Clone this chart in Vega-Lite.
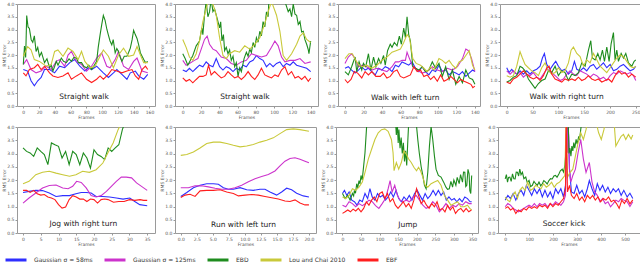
{
"$schema": "https://vega.github.io/schema/vega-lite/v6.json",
"padding": {"left": 0, "top": 0, "right": 0, "bottom": 0},
"background": "white",
"datasets": {
"p1": [
{"s":"b","x":0,"y":1.43},{"s":"b","x":5.5,"y":1.37},{"s":"b","x":9.8,"y":0.99},{"s":"b","x":14,"y":0.79},{"s":"b","x":18.3,"y":0.99},{"s":"b","x":22.6,"y":1.12},{"s":"b","x":26.9,"y":1.43},{"s":"b","x":33.3,"y":1.43},{"s":"b","x":39.7,"y":1.3},{"s":"b","x":46,"y":1.56},{"s":"b","x":52.5,"y":1.5},{"s":"b","x":58.9,"y":1.7},{"s":"b","x":65.3,"y":1.82},{"s":"b","x":71.7,"y":1.56},{"s":"b","x":78.1,"y":1.37},{"s":"b","x":82.3,"y":1.5},{"s":"b","x":86.6,"y":1.43},{"s":"b","x":93,"y":1.56},{"s":"b","x":97.3,"y":1.43},{"s":"b","x":101.5,"y":1.3},{"s":"b","x":107.9,"y":1.12},{"s":"b","x":114.3,"y":1.3},{"s":"b","x":118.6,"y":1.43},{"s":"b","x":125,"y":1.24},{"s":"b","x":131.4,"y":1.05},{"s":"b","x":135.7,"y":1.3},{"s":"b","x":142.1,"y":1.37},{"s":"b","x":146.3,"y":1.18},{"s":"b","x":152.7,"y":1.05},{"s":"b","x":157.8,"y":1.24},
{"s":"m","x":0,"y":1.63},{"s":"m","x":4.3,"y":1.82},{"s":"m","x":9.8,"y":1.43},{"s":"m","x":16.2,"y":1.3},{"s":"m","x":22.6,"y":1.37},{"s":"m","x":29,"y":1.56},{"s":"m","x":35.4,"y":1.43},{"s":"m","x":41.8,"y":1.75},{"s":"m","x":46,"y":1.82},{"s":"m","x":52.5,"y":1.56},{"s":"m","x":56.7,"y":2.0},{"s":"m","x":61,"y":2.14},{"s":"m","x":67.4,"y":1.75},{"s":"m","x":73.8,"y":1.63},{"s":"m","x":80.2,"y":1.37},{"s":"m","x":86.6,"y":1.56},{"s":"m","x":93,"y":1.88},{"s":"m","x":99.4,"y":2.08},{"s":"m","x":105.8,"y":1.56},{"s":"m","x":110,"y":1.5},{"s":"m","x":116.5,"y":1.82},{"s":"m","x":120.7,"y":2.14},{"s":"m","x":127.1,"y":1.56},{"s":"m","x":133.5,"y":1.43},{"s":"m","x":139.9,"y":1.75},{"s":"m","x":144.2,"y":1.88},{"s":"m","x":150.6,"y":1.37},{"s":"m","x":157.8,"y":1.3},
{"s":"g","x":0,"y":1.63},{"s":"g","x":1.5,"y":2.35},{"s":"g","x":3,"y":1.9},{"s":"g","x":4.3,"y":3.55},{"s":"g","x":6,"y":3.1},{"s":"g","x":7.7,"y":3.04},{"s":"g","x":10,"y":2.6},{"s":"g","x":12,"y":2.5},{"s":"g","x":14,"y":2.75},{"s":"g","x":16.2,"y":2.14},{"s":"g","x":18.3,"y":2.3},{"s":"g","x":20.5,"y":1.95},{"s":"g","x":23,"y":2.1},{"s":"g","x":26.9,"y":1.7},{"s":"g","x":30,"y":1.85},{"s":"g","x":33.3,"y":1.5},{"s":"g","x":35.4,"y":1.6},{"s":"g","x":37.5,"y":1.37},{"s":"g","x":39.7,"y":1.55},{"s":"g","x":41.8,"y":1.75},{"s":"g","x":44,"y":1.6},{"s":"g","x":48.2,"y":1.88},{"s":"g","x":51,"y":1.75},{"s":"g","x":54.6,"y":1.7},{"s":"g","x":58,"y":1.85},{"s":"g","x":61,"y":1.75},{"s":"g","x":64,"y":1.9},{"s":"g","x":67.4,"y":1.88},{"s":"g","x":70,"y":1.7},{"s":"g","x":73.8,"y":1.7},{"s":"g","x":77,"y":1.55},{"s":"g","x":80.2,"y":1.5},{"s":"g","x":83,"y":1.6},{"s":"g","x":86.6,"y":1.43},{"s":"g","x":90,"y":1.6},{"s":"g","x":93,"y":1.75},{"s":"g","x":95,"y":2.3},{"s":"g","x":97.3,"y":2.78},{"s":"g","x":99.5,"y":3.2},{"s":"g","x":101.5,"y":3.55},{"s":"g","x":103.7,"y":3.36},{"s":"g","x":106,"y":3.0},{"s":"g","x":107.9,"y":2.78},{"s":"g","x":110,"y":2.55},{"s":"g","x":112.2,"y":2.4},{"s":"g","x":114,"y":2.6},{"s":"g","x":116.5,"y":2.08},{"s":"g","x":118.6,"y":2.25},{"s":"g","x":120.7,"y":2.14},{"s":"g","x":123,"y":1.9},{"s":"g","x":125,"y":1.75},{"s":"g","x":128,"y":1.95},{"s":"g","x":131.4,"y":1.95},{"s":"g","x":133.5,"y":2.1},{"s":"g","x":135.7,"y":2.27},{"s":"g","x":138,"y":2.6},{"s":"g","x":139.9,"y":2.97},{"s":"g","x":142,"y":2.8},{"s":"g","x":144.2,"y":2.65},{"s":"g","x":146.3,"y":2.4},{"s":"g","x":148.5,"y":2.08},{"s":"g","x":150.6,"y":1.95},{"s":"g","x":152.7,"y":1.82},{"s":"g","x":155,"y":1.7},{"s":"g","x":157.8,"y":1.75},
{"s":"y","x":0,"y":1.95},{"s":"y","x":5.5,"y":2.33},{"s":"y","x":9.8,"y":2.2},{"s":"y","x":14,"y":1.82},{"s":"y","x":20.5,"y":1.75},{"s":"y","x":29,"y":1.56},{"s":"y","x":35.4,"y":1.63},{"s":"y","x":39.7,"y":2.14},{"s":"y","x":43.9,"y":2.2},{"s":"y","x":50.3,"y":1.95},{"s":"y","x":56.7,"y":2.27},{"s":"y","x":63.1,"y":2.14},{"s":"y","x":69.5,"y":1.82},{"s":"y","x":73.8,"y":2.14},{"s":"y","x":78.1,"y":1.75},{"s":"y","x":84.5,"y":1.5},{"s":"y","x":90.9,"y":1.56},{"s":"y","x":97.3,"y":1.95},{"s":"y","x":101.5,"y":2.2},{"s":"y","x":107.9,"y":1.95},{"s":"y","x":114.3,"y":1.5},{"s":"y","x":120.7,"y":2.0},{"s":"y","x":127.1,"y":2.27},{"s":"y","x":133.5,"y":1.95},{"s":"y","x":139.9,"y":2.0},{"s":"y","x":144.2,"y":2.33},{"s":"y","x":148.5,"y":2.0},{"s":"y","x":152.7,"y":1.7},{"s":"y","x":157.8,"y":1.7},
{"s":"r","x":0,"y":1.3},{"s":"r","x":3.4,"y":1.18},{"s":"r","x":7.7,"y":1.43},{"s":"r","x":14,"y":1.5},{"s":"r","x":18.3,"y":1.63},{"s":"r","x":22.6,"y":1.43},{"s":"r","x":26.9,"y":1.56},{"s":"r","x":33.3,"y":1.3},{"s":"r","x":37.5,"y":1.18},{"s":"r","x":43.9,"y":1.12},{"s":"r","x":50.3,"y":1.18},{"s":"r","x":56.7,"y":1.3},{"s":"r","x":61,"y":1.05},{"s":"r","x":67.4,"y":1.18},{"s":"r","x":73.8,"y":1.3},{"s":"r","x":80.2,"y":1.05},{"s":"r","x":86.6,"y":0.92},{"s":"r","x":93,"y":1.05},{"s":"r","x":97.3,"y":1.18},{"s":"r","x":101.5,"y":1.05},{"s":"r","x":107.9,"y":1.24},{"s":"r","x":112.2,"y":1.43},{"s":"r","x":118.6,"y":1.37},{"s":"r","x":125,"y":1.3},{"s":"r","x":131.4,"y":1.37},{"s":"r","x":137.8,"y":1.43},{"s":"r","x":142.1,"y":1.18},{"s":"r","x":146.3,"y":1.05},{"s":"r","x":150.6,"y":1.43},{"s":"r","x":154.9,"y":1.56},{"s":"r","x":157.8,"y":1.43}
],
"p2": [
{"s":"b","x":0,"y":1.41},{"s":"b","x":3.7,"y":1.35},{"s":"b","x":7.3,"y":1.48},{"s":"b","x":11,"y":1.35},{"s":"b","x":14.7,"y":1.48},{"s":"b","x":18.3,"y":1.6},{"s":"b","x":22,"y":1.54},{"s":"b","x":25.6,"y":1.73},{"s":"b","x":29.3,"y":1.6},{"s":"b","x":33,"y":1.54},{"s":"b","x":36.6,"y":1.86},{"s":"b","x":40.3,"y":1.54},{"s":"b","x":44,"y":1.41},{"s":"b","x":47.6,"y":1.54},{"s":"b","x":51.3,"y":1.48},{"s":"b","x":55,"y":1.35},{"s":"b","x":58.6,"y":1.48},{"s":"b","x":62.3,"y":1.41},{"s":"b","x":66,"y":1.6},{"s":"b","x":69.6,"y":1.54},{"s":"b","x":73.3,"y":1.73},{"s":"b","x":77,"y":1.79},{"s":"b","x":80.6,"y":1.98},{"s":"b","x":84.3,"y":1.86},{"s":"b","x":87.9,"y":1.79},{"s":"b","x":91.6,"y":1.54},{"s":"b","x":95.3,"y":1.67},{"s":"b","x":98.9,"y":1.54},{"s":"b","x":102.6,"y":1.67},{"s":"b","x":106.3,"y":1.73},{"s":"b","x":109.9,"y":1.54},{"s":"b","x":113.6,"y":1.67},{"s":"b","x":117.3,"y":1.6},{"s":"b","x":120.9,"y":1.73},{"s":"b","x":124.6,"y":1.6},{"s":"b","x":130.1,"y":1.54},{"s":"b","x":135.6,"y":1.48},{"s":"b","x":140,"y":1.35},
{"s":"m","x":0,"y":1.79},{"s":"m","x":3.7,"y":1.6},{"s":"m","x":7.3,"y":1.67},{"s":"m","x":12.8,"y":1.79},{"s":"m","x":16.5,"y":1.86},{"s":"m","x":20.2,"y":2.23},{"s":"m","x":23.8,"y":2.61},{"s":"m","x":26.7,"y":2.74},{"s":"m","x":29.3,"y":2.42},{"s":"m","x":33,"y":2.23},{"s":"m","x":36.6,"y":2.17},{"s":"m","x":42.1,"y":1.92},{"s":"m","x":47.6,"y":1.86},{"s":"m","x":53.1,"y":1.67},{"s":"m","x":58.6,"y":1.6},{"s":"m","x":64.1,"y":1.73},{"s":"m","x":69.6,"y":1.79},{"s":"m","x":75.1,"y":2.05},{"s":"m","x":80.6,"y":1.98},{"s":"m","x":86.1,"y":1.92},{"s":"m","x":91.6,"y":1.98},{"s":"m","x":97.1,"y":2.3},{"s":"m","x":100.8,"y":2.55},{"s":"m","x":104.4,"y":2.36},{"s":"m","x":108.1,"y":1.92},{"s":"m","x":111.8,"y":1.73},{"s":"m","x":117.3,"y":1.79},{"s":"m","x":122.8,"y":1.79},{"s":"m","x":128.3,"y":1.86},{"s":"m","x":133.7,"y":1.67},{"s":"m","x":140,"y":1.73},
{"s":"g","x":0,"y":2.05},{"s":"g","x":2.6,"y":1.86},{"s":"g","x":5.5,"y":1.6},{"s":"g","x":8.4,"y":1.79},{"s":"g","x":11,"y":1.98},{"s":"g","x":14.7,"y":2.36},{"s":"g","x":18.3,"y":2.55},{"s":"g","x":20.9,"y":3.06},{"s":"g","x":22,"y":2.8},{"s":"g","x":23.8,"y":3.56},{"s":"g","x":25.6,"y":4.1},{"s":"g","x":27.5,"y":3.5},{"s":"g","x":29.3,"y":3.69},{"s":"g","x":31.1,"y":4.2},{"s":"g","x":33,"y":3.7},{"s":"g","x":34.8,"y":3.81},{"s":"g","x":37.7,"y":3.43},{"s":"g","x":40.3,"y":3.06},{"s":"g","x":41.5,"y":3.3},{"s":"g","x":42.9,"y":2.55},{"s":"g","x":44.5,"y":2.8},{"s":"g","x":45.8,"y":2.17},{"s":"g","x":47.6,"y":2.3},{"s":"g","x":49.5,"y":2.05},{"s":"g","x":51.3,"y":2.2},{"s":"g","x":53.1,"y":1.79},{"s":"g","x":55,"y":1.95},{"s":"g","x":56.8,"y":1.54},{"s":"g","x":58.6,"y":1.7},{"s":"g","x":60.5,"y":1.16},{"s":"g","x":62.3,"y":1.5},{"s":"g","x":64.1,"y":1.35},{"s":"g","x":67.1,"y":1.86},{"s":"g","x":69.6,"y":2.11},{"s":"g","x":71.5,"y":1.95},{"s":"g","x":73.3,"y":2.23},{"s":"g","x":75.1,"y":2.1},{"s":"g","x":77,"y":2.49},{"s":"g","x":78.8,"y":2.3},{"s":"g","x":80.6,"y":2.68},{"s":"g","x":82.4,"y":2.5},{"s":"g","x":84.3,"y":2.93},{"s":"g","x":86.1,"y":2.75},{"s":"g","x":87.9,"y":3.31},{"s":"g","x":89.8,"y":3.1},{"s":"g","x":91.6,"y":3.69},{"s":"g","x":93.4,"y":3.5},{"s":"g","x":94.2,"y":4.1},{"s":"g","x":100.8,"y":4.3},{"s":"g","x":106.3,"y":4.2},{"s":"g","x":111.8,"y":4.1},{"s":"g","x":115.4,"y":3.7},{"s":"g","x":117.3,"y":3.81},{"s":"g","x":119.1,"y":3.5},{"s":"g","x":120.9,"y":4.0},{"s":"g","x":122.8,"y":3.6},{"s":"g","x":124.6,"y":3.56},{"s":"g","x":126.4,"y":3.2},{"s":"g","x":128.3,"y":3.31},{"s":"g","x":130.1,"y":2.9},{"s":"g","x":131.9,"y":2.93},{"s":"g","x":133.7,"y":2.6},{"s":"g","x":135.6,"y":2.42},{"s":"g","x":137.4,"y":2.2},{"s":"g","x":138.1,"y":2.05},{"s":"g","x":140,"y":2.55},
{"s":"y","x":0,"y":2.61},{"s":"y","x":3.7,"y":2.3},{"s":"y","x":7.3,"y":1.92},{"s":"y","x":11,"y":1.79},{"s":"y","x":14.7,"y":2.05},{"s":"y","x":18.3,"y":2.55},{"s":"y","x":22,"y":3.31},{"s":"y","x":25.6,"y":3.81},{"s":"y","x":27.5,"y":4.1},{"s":"y","x":33,"y":4.0},{"s":"y","x":36.6,"y":3.56},{"s":"y","x":40.3,"y":2.68},{"s":"y","x":44,"y":1.98},{"s":"y","x":47.6,"y":1.86},{"s":"y","x":51.3,"y":2.05},{"s":"y","x":56.8,"y":2.17},{"s":"y","x":62.3,"y":2.11},{"s":"y","x":67.8,"y":2.36},{"s":"y","x":73.3,"y":2.23},{"s":"y","x":78.8,"y":2.42},{"s":"y","x":84.3,"y":2.68},{"s":"y","x":89.8,"y":3.24},{"s":"y","x":93.4,"y":3.69},{"s":"y","x":97.1,"y":4.1},{"s":"y","x":102.6,"y":3.56},{"s":"y","x":106.3,"y":2.93},{"s":"y","x":109.9,"y":1.98},{"s":"y","x":113.6,"y":1.79},{"s":"y","x":119.1,"y":2.05},{"s":"y","x":124.6,"y":2.42},{"s":"y","x":128.3,"y":2.74},{"s":"y","x":131.9,"y":2.87},{"s":"y","x":135.6,"y":2.61},{"s":"y","x":140,"y":2.49},
{"s":"r","x":0,"y":1.1},{"s":"r","x":3.7,"y":0.97},{"s":"r","x":7.3,"y":1.04},{"s":"r","x":11,"y":0.91},{"s":"r","x":14.7,"y":1.04},{"s":"r","x":18.3,"y":1.16},{"s":"r","x":22,"y":1.16},{"s":"r","x":25.6,"y":1.22},{"s":"r","x":28.2,"y":1.6},{"s":"r","x":31.1,"y":1.22},{"s":"r","x":34.8,"y":1.35},{"s":"r","x":38.5,"y":1.22},{"s":"r","x":42.1,"y":1.1},{"s":"r","x":45.8,"y":1.16},{"s":"r","x":49.5,"y":1.35},{"s":"r","x":53.1,"y":1.22},{"s":"r","x":56.8,"y":1.1},{"s":"r","x":60.5,"y":1.16},{"s":"r","x":64.1,"y":1.04},{"s":"r","x":67.8,"y":1.16},{"s":"r","x":71.5,"y":1.35},{"s":"r","x":75.1,"y":1.16},{"s":"r","x":78.8,"y":1.04},{"s":"r","x":82.4,"y":1.22},{"s":"r","x":86.1,"y":1.48},{"s":"r","x":89.8,"y":1.22},{"s":"r","x":93.4,"y":1.16},{"s":"r","x":97.1,"y":1.1},{"s":"r","x":100.8,"y":1.22},{"s":"r","x":104.4,"y":1.16},{"s":"r","x":108.1,"y":1.41},{"s":"r","x":111.8,"y":1.54},{"s":"r","x":115.4,"y":1.22},{"s":"r","x":119.1,"y":1.35},{"s":"r","x":122.8,"y":1.1},{"s":"r","x":126.4,"y":1.16},{"s":"r","x":130.1,"y":1.04},{"s":"r","x":133.7,"y":1.16},{"s":"r","x":137.4,"y":0.97},{"s":"r","x":140,"y":1.1}
],
"p3": [
{"s":"b","x":0,"y":1.48},{"s":"b","x":3.6,"y":1.54},{"s":"b","x":7.2,"y":1.41},{"s":"b","x":10.9,"y":1.29},{"s":"b","x":14.5,"y":1.41},{"s":"b","x":18.1,"y":1.54},{"s":"b","x":21.7,"y":1.41},{"s":"b","x":25.3,"y":1.48},{"s":"b","x":28.9,"y":1.35},{"s":"b","x":32.6,"y":1.22},{"s":"b","x":36.2,"y":1.48},{"s":"b","x":39.8,"y":1.41},{"s":"b","x":43.4,"y":1.54},{"s":"b","x":47,"y":1.48},{"s":"b","x":50.7,"y":1.35},{"s":"b","x":54.3,"y":1.6},{"s":"b","x":57.9,"y":1.54},{"s":"b","x":61.5,"y":1.73},{"s":"b","x":65.1,"y":1.67},{"s":"b","x":68.7,"y":1.6},{"s":"b","x":72.4,"y":1.73},{"s":"b","x":76,"y":1.48},{"s":"b","x":79.6,"y":1.35},{"s":"b","x":83.2,"y":1.54},{"s":"b","x":86.8,"y":1.35},{"s":"b","x":90.4,"y":1.22},{"s":"b","x":94.1,"y":1.41},{"s":"b","x":97.7,"y":1.35},{"s":"b","x":101.3,"y":1.6},{"s":"b","x":104.9,"y":1.35},{"s":"b","x":108.5,"y":1.41},{"s":"b","x":112.2,"y":1.22},{"s":"b","x":115.8,"y":1.35},{"s":"b","x":119.4,"y":1.29},{"s":"b","x":123,"y":1.22},{"s":"b","x":126.6,"y":1.35},{"s":"b","x":130.2,"y":1.16},{"s":"b","x":133.9,"y":1.29},{"s":"b","x":137.5,"y":1.41},{"s":"b","x":140,"y":1.35},
{"s":"m","x":0,"y":1.67},{"s":"m","x":3.6,"y":1.92},{"s":"m","x":7.2,"y":2.05},{"s":"m","x":10.9,"y":1.86},{"s":"m","x":14.5,"y":1.54},{"s":"m","x":18.8,"y":1.6},{"s":"m","x":23.5,"y":1.54},{"s":"m","x":28.9,"y":1.41},{"s":"m","x":34.4,"y":1.48},{"s":"m","x":39.8,"y":1.41},{"s":"m","x":45.2,"y":1.35},{"s":"m","x":50.7,"y":1.54},{"s":"m","x":54.3,"y":1.73},{"s":"m","x":57.9,"y":1.73},{"s":"m","x":61.5,"y":1.79},{"s":"m","x":65.1,"y":1.79},{"s":"m","x":66.9,"y":2.11},{"s":"m","x":69.5,"y":1.86},{"s":"m","x":73.1,"y":1.54},{"s":"m","x":77.8,"y":1.41},{"s":"m","x":83.2,"y":1.29},{"s":"m","x":88.6,"y":1.35},{"s":"m","x":94.1,"y":1.54},{"s":"m","x":99.5,"y":1.41},{"s":"m","x":104.9,"y":1.35},{"s":"m","x":110.3,"y":1.48},{"s":"m","x":115.8,"y":1.41},{"s":"m","x":121.2,"y":1.54},{"s":"m","x":126.6,"y":1.86},{"s":"m","x":130.2,"y":2.23},{"s":"m","x":133.1,"y":2.17},{"s":"m","x":136.4,"y":1.86},{"s":"m","x":140,"y":1.35},
{"s":"g","x":0,"y":1.35},{"s":"g","x":3.6,"y":1.22},{"s":"g","x":7.2,"y":1.54},{"s":"g","x":10.9,"y":1.92},{"s":"g","x":12.7,"y":1.35},{"s":"g","x":15.2,"y":1.73},{"s":"g","x":18.1,"y":1.41},{"s":"g","x":19.9,"y":1.67},{"s":"g","x":22.4,"y":1.54},{"s":"g","x":25.3,"y":2.05},{"s":"g","x":27.9,"y":1.41},{"s":"g","x":30.8,"y":1.92},{"s":"g","x":33.3,"y":1.54},{"s":"g","x":36.2,"y":1.86},{"s":"g","x":38.7,"y":1.67},{"s":"g","x":41.6,"y":1.98},{"s":"g","x":43.4,"y":1.6},{"s":"g","x":45.9,"y":2.17},{"s":"g","x":48.8,"y":2.42},{"s":"g","x":50.7,"y":2.3},{"s":"g","x":53.2,"y":2.49},{"s":"g","x":56.1,"y":2.36},{"s":"g","x":58.6,"y":2.74},{"s":"g","x":60.8,"y":2.42},{"s":"g","x":63.3,"y":3.06},{"s":"g","x":65.1,"y":2.68},{"s":"g","x":66.9,"y":3.5},{"s":"g","x":68.7,"y":2.8},{"s":"g","x":70.5,"y":2.55},{"s":"g","x":73.1,"y":1.54},{"s":"g","x":76,"y":1.48},{"s":"g","x":79.6,"y":1.41},{"s":"g","x":83.2,"y":1.54},{"s":"g","x":86.8,"y":1.35},{"s":"g","x":90.4,"y":1.41},{"s":"g","x":94.1,"y":1.73},{"s":"g","x":97.7,"y":1.48},{"s":"g","x":101.3,"y":1.67},{"s":"g","x":104.9,"y":1.16},{"s":"g","x":108.5,"y":1.54},{"s":"g","x":112.2,"y":1.04},{"s":"g","x":115.8,"y":1.41},{"s":"g","x":119.4,"y":0.85},{"s":"g","x":123,"y":1.16},{"s":"g","x":126.6,"y":0.91},{"s":"g","x":130.2,"y":1.41},{"s":"g","x":133.9,"y":1.1},{"s":"g","x":137.5,"y":1.04},{"s":"g","x":140,"y":0.85},
{"s":"y","x":0,"y":1.86},{"s":"y","x":4.3,"y":2.05},{"s":"y","x":8,"y":2.05},{"s":"y","x":11.6,"y":1.79},{"s":"y","x":15.2,"y":1.6},{"s":"y","x":18.8,"y":1.54},{"s":"y","x":23.5,"y":1.6},{"s":"y","x":28.9,"y":1.48},{"s":"y","x":34.4,"y":1.6},{"s":"y","x":39.8,"y":1.79},{"s":"y","x":45.2,"y":1.92},{"s":"y","x":50.7,"y":2.11},{"s":"y","x":55,"y":2.17},{"s":"y","x":59.7,"y":2.23},{"s":"y","x":63.3,"y":2.49},{"s":"y","x":66.9,"y":2.8},{"s":"y","x":69.5,"y":2.68},{"s":"y","x":73.1,"y":1.86},{"s":"y","x":76.7,"y":1.67},{"s":"y","x":81.4,"y":1.6},{"s":"y","x":85,"y":1.48},{"s":"y","x":88.6,"y":1.35},{"s":"y","x":92.3,"y":1.54},{"s":"y","x":95.9,"y":1.41},{"s":"y","x":101.3,"y":1.86},{"s":"y","x":104.9,"y":1.79},{"s":"y","x":108.5,"y":1.67},{"s":"y","x":112.2,"y":1.79},{"s":"y","x":115.8,"y":1.6},{"s":"y","x":119.4,"y":1.48},{"s":"y","x":123,"y":1.73},{"s":"y","x":126.6,"y":1.79},{"s":"y","x":130.2,"y":1.98},{"s":"y","x":133.9,"y":2.17},{"s":"y","x":137.5,"y":1.6},{"s":"y","x":140,"y":1.41},
{"s":"r","x":0,"y":1.04},{"s":"r","x":2.9,"y":0.91},{"s":"r","x":6.5,"y":1.04},{"s":"r","x":10.1,"y":1.35},{"s":"r","x":13.7,"y":1.29},{"s":"r","x":18.1,"y":1.1},{"s":"r","x":21.7,"y":1.35},{"s":"r","x":25.3,"y":1.22},{"s":"r","x":28.9,"y":1.35},{"s":"r","x":33.3,"y":1.16},{"s":"r","x":38,"y":1.16},{"s":"r","x":41.6,"y":1.29},{"s":"r","x":45.2,"y":1.1},{"s":"r","x":48.8,"y":1.16},{"s":"r","x":52.5,"y":1.35},{"s":"r","x":56.1,"y":1.41},{"s":"r","x":59.7,"y":1.16},{"s":"r","x":63.3,"y":1.1},{"s":"r","x":66.9,"y":1.16},{"s":"r","x":70.5,"y":1.22},{"s":"r","x":74.2,"y":1.54},{"s":"r","x":77.8,"y":1.35},{"s":"r","x":81.4,"y":1.41},{"s":"r","x":85,"y":1.16},{"s":"r","x":88.6,"y":1.22},{"s":"r","x":92.3,"y":1.04},{"s":"r","x":95.9,"y":1.16},{"s":"r","x":99.5,"y":0.97},{"s":"r","x":103.1,"y":1.22},{"s":"r","x":106.7,"y":0.97},{"s":"r","x":110.3,"y":1.04},{"s":"r","x":114,"y":1.16},{"s":"r","x":117.6,"y":1.04},{"s":"r","x":121.2,"y":0.91},{"s":"r","x":124.8,"y":1.04},{"s":"r","x":128.4,"y":0.97},{"s":"r","x":132.1,"y":0.91},{"s":"r","x":135.7,"y":0.85},{"s":"r","x":137.8,"y":0.72},{"s":"r","x":140,"y":0.78}
],
"p4": [
{"s":"b","x":0,"y":1.5},{"s":"b","x":4.5,"y":1.31},{"s":"b","x":9.7,"y":1.44},{"s":"b","x":14.9,"y":1.31},{"s":"b","x":20,"y":1.25},{"s":"b","x":25.8,"y":1.38},{"s":"b","x":32.3,"y":1.25},{"s":"b","x":38.8,"y":1.38},{"s":"b","x":45.2,"y":1.25},{"s":"b","x":51.7,"y":1.38},{"s":"b","x":58.1,"y":1.44},{"s":"b","x":64.6,"y":1.56},{"s":"b","x":69.1,"y":1.88},{"s":"b","x":73,"y":2.06},{"s":"b","x":77.5,"y":1.63},{"s":"b","x":84,"y":1.44},{"s":"b","x":90.4,"y":1.63},{"s":"b","x":95,"y":1.75},{"s":"b","x":100.1,"y":1.56},{"s":"b","x":106.6,"y":1.38},{"s":"b","x":113,"y":1.44},{"s":"b","x":119.5,"y":1.25},{"s":"b","x":126,"y":1.38},{"s":"b","x":131.1,"y":1.75},{"s":"b","x":135.7,"y":1.44},{"s":"b","x":142.1,"y":1.38},{"s":"b","x":148.6,"y":1.5},{"s":"b","x":155,"y":1.38},{"s":"b","x":161.5,"y":1.56},{"s":"b","x":168,"y":1.63},{"s":"b","x":174.4,"y":1.44},{"s":"b","x":180.9,"y":1.56},{"s":"b","x":187.3,"y":1.69},{"s":"b","x":193.8,"y":1.5},{"s":"b","x":200.3,"y":1.63},{"s":"b","x":206.7,"y":1.38},{"s":"b","x":213.2,"y":1.44},{"s":"b","x":219.6,"y":1.56},{"s":"b","x":226.1,"y":1.63},{"s":"b","x":232.6,"y":1.5},{"s":"b","x":239,"y":1.38},{"s":"b","x":245.5,"y":1.44},{"s":"b","x":250,"y":1.56},
{"s":"m","x":0,"y":1.38},{"s":"m","x":6.5,"y":1.25},{"s":"m","x":12.9,"y":1.38},{"s":"m","x":19.4,"y":1.25},{"s":"m","x":25.8,"y":1.31},{"s":"m","x":32.3,"y":1.13},{"s":"m","x":38.8,"y":1.25},{"s":"m","x":45.2,"y":1.19},{"s":"m","x":51.7,"y":1.31},{"s":"m","x":58.1,"y":1.13},{"s":"m","x":64.6,"y":1.06},{"s":"m","x":71.1,"y":1.25},{"s":"m","x":77.5,"y":1.44},{"s":"m","x":84,"y":1.38},{"s":"m","x":90.4,"y":1.25},{"s":"m","x":96.9,"y":1.13},{"s":"m","x":103.4,"y":1.0},{"s":"m","x":109.8,"y":1.06},{"s":"m","x":116.3,"y":1.25},{"s":"m","x":122.7,"y":1.38},{"s":"m","x":129.2,"y":1.25},{"s":"m","x":135.7,"y":1.19},{"s":"m","x":142.1,"y":1.38},{"s":"m","x":148.6,"y":1.31},{"s":"m","x":155,"y":1.25},{"s":"m","x":161.5,"y":1.13},{"s":"m","x":168,"y":1.25},{"s":"m","x":174.4,"y":1.19},{"s":"m","x":180.9,"y":1.06},{"s":"m","x":187.3,"y":1.13},{"s":"m","x":193.8,"y":1.0},{"s":"m","x":200.3,"y":1.19},{"s":"m","x":206.7,"y":1.31},{"s":"m","x":213.2,"y":1.25},{"s":"m","x":219.6,"y":1.38},{"s":"m","x":226.1,"y":1.31},{"s":"m","x":232.6,"y":1.25},{"s":"m","x":239,"y":1.31},{"s":"m","x":245.5,"y":1.19},{"s":"m","x":250,"y":1.0},
{"s":"g","x":0,"y":0.94},{"s":"g","x":6.5,"y":1.0},{"s":"g","x":12.9,"y":1.13},{"s":"g","x":19.4,"y":1.19},{"s":"g","x":25.8,"y":1.56},{"s":"g","x":30.4,"y":1.5},{"s":"g","x":35.5,"y":1.38},{"s":"g","x":42,"y":1.06},{"s":"g","x":48.4,"y":0.88},{"s":"g","x":54.9,"y":0.69},{"s":"g","x":61.4,"y":0.88},{"s":"g","x":67.8,"y":1.0},{"s":"g","x":74.3,"y":1.06},{"s":"g","x":80.7,"y":1.38},{"s":"g","x":87.2,"y":1.31},{"s":"g","x":93.7,"y":1.56},{"s":"g","x":100.1,"y":1.19},{"s":"g","x":106.6,"y":1.38},{"s":"g","x":113,"y":1.31},{"s":"g","x":119.5,"y":1.0},{"s":"g","x":126,"y":1.25},{"s":"g","x":132.4,"y":1.19},{"s":"g","x":138.9,"y":1.31},{"s":"g","x":145.3,"y":1.69},{"s":"g","x":151.8,"y":1.56},{"s":"g","x":158.3,"y":2.19},{"s":"g","x":162.8,"y":2.56},{"s":"g","x":166,"y":1.88},{"s":"g","x":171.2,"y":1.81},{"s":"g","x":176.4,"y":2.06},{"s":"g","x":180.9,"y":1.81},{"s":"g","x":185.4,"y":2.19},{"s":"g","x":189.3,"y":1.75},{"s":"g","x":193.8,"y":2.31},{"s":"g","x":198.3,"y":1.75},{"s":"g","x":202.2,"y":2.44},{"s":"g","x":206.7,"y":2.88},{"s":"g","x":209.9,"y":1.81},{"s":"g","x":213.2,"y":2.19},{"s":"g","x":216.4,"y":1.75},{"s":"g","x":221.6,"y":2.06},{"s":"g","x":226.1,"y":1.88},{"s":"g","x":230.6,"y":2.06},{"s":"g","x":235.8,"y":1.69},{"s":"g","x":242.2,"y":1.56},{"s":"g","x":246.8,"y":1.75},{"s":"g","x":250,"y":1.81},
{"s":"y","x":0,"y":1.19},{"s":"y","x":6.5,"y":1.13},{"s":"y","x":12.9,"y":1.19},{"s":"y","x":19.4,"y":1.56},{"s":"y","x":25.8,"y":2.13},{"s":"y","x":30.4,"y":1.88},{"s":"y","x":35.5,"y":1.63},{"s":"y","x":42,"y":1.5},{"s":"y","x":48.4,"y":1.38},{"s":"y","x":54.9,"y":1.31},{"s":"y","x":61.4,"y":1.19},{"s":"y","x":67.8,"y":1.5},{"s":"y","x":74.3,"y":1.69},{"s":"y","x":80.7,"y":1.38},{"s":"y","x":87.2,"y":1.25},{"s":"y","x":93.7,"y":1.31},{"s":"y","x":100.1,"y":1.5},{"s":"y","x":106.6,"y":1.31},{"s":"y","x":113,"y":1.38},{"s":"y","x":119.5,"y":1.69},{"s":"y","x":124.7,"y":2.19},{"s":"y","x":129.2,"y":2.31},{"s":"y","x":135.7,"y":2.06},{"s":"y","x":142.1,"y":1.94},{"s":"y","x":148.6,"y":1.56},{"s":"y","x":155,"y":1.81},{"s":"y","x":161.5,"y":1.69},{"s":"y","x":168,"y":2.06},{"s":"y","x":174.4,"y":1.81},{"s":"y","x":180.9,"y":1.56},{"s":"y","x":187.3,"y":1.44},{"s":"y","x":193.8,"y":1.31},{"s":"y","x":200.3,"y":1.5},{"s":"y","x":206.7,"y":1.69},{"s":"y","x":213.2,"y":1.88},{"s":"y","x":219.6,"y":2.0},{"s":"y","x":226.1,"y":1.94},{"s":"y","x":232.6,"y":1.75},{"s":"y","x":239,"y":1.56},{"s":"y","x":245.5,"y":1.5},{"s":"y","x":250,"y":1.56},
{"s":"r","x":0,"y":0.94},{"s":"r","x":6.5,"y":0.88},{"s":"r","x":12.9,"y":1.06},{"s":"r","x":19.4,"y":1.13},{"s":"r","x":25.8,"y":1.25},{"s":"r","x":32.3,"y":1.38},{"s":"r","x":38.8,"y":1.25},{"s":"r","x":45.2,"y":1.13},{"s":"r","x":51.7,"y":1.06},{"s":"r","x":58.1,"y":1.13},{"s":"r","x":64.6,"y":1.0},{"s":"r","x":71.1,"y":1.19},{"s":"r","x":77.5,"y":1.5},{"s":"r","x":82,"y":1.56},{"s":"r","x":87.2,"y":1.25},{"s":"r","x":93.7,"y":1.06},{"s":"r","x":100.1,"y":1.0},{"s":"r","x":106.6,"y":0.94},{"s":"r","x":113,"y":1.06},{"s":"r","x":119.5,"y":1.0},{"s":"r","x":126,"y":1.06},{"s":"r","x":132.4,"y":1.0},{"s":"r","x":138.9,"y":1.13},{"s":"r","x":145.3,"y":1.0},{"s":"r","x":151.8,"y":1.06},{"s":"r","x":158.3,"y":1.19},{"s":"r","x":164.7,"y":1.06},{"s":"r","x":171.2,"y":1.0},{"s":"r","x":177.6,"y":1.06},{"s":"r","x":184.1,"y":0.94},{"s":"r","x":190.6,"y":1.0},{"s":"r","x":197,"y":1.06},{"s":"r","x":203.5,"y":0.94},{"s":"r","x":209.9,"y":1.19},{"s":"r","x":216.4,"y":1.38},{"s":"r","x":222.9,"y":1.25},{"s":"r","x":229.3,"y":1.31},{"s":"r","x":235.8,"y":1.13},{"s":"r","x":242.2,"y":1.25},{"s":"r","x":250,"y":1.13}
],
"p5": [
{"s":"b","x":0,"y":1.53},{"s":"b","x":1.7,"y":1.57},{"s":"b","x":3.6,"y":1.61},{"s":"b","x":5.5,"y":1.6},{"s":"b","x":7.4,"y":1.51},{"s":"b","x":9.3,"y":1.38},{"s":"b","x":11.2,"y":1.41},{"s":"b","x":13.1,"y":1.41},{"s":"b","x":14.9,"y":1.48},{"s":"b","x":16.4,"y":1.53},{"s":"b","x":17.8,"y":1.53},{"s":"b","x":19.2,"y":1.51},{"s":"b","x":20.6,"y":1.38},{"s":"b","x":22.5,"y":1.38},{"s":"b","x":24.4,"y":1.36},{"s":"b","x":26.3,"y":1.32},{"s":"b","x":28.2,"y":1.28},{"s":"b","x":30.1,"y":1.32},{"s":"b","x":31.5,"y":1.19},{"s":"b","x":32.9,"y":1.07},{"s":"b","x":35,"y":1.03},
{"s":"m","x":0,"y":1.13},{"s":"m","x":1.7,"y":1.32},{"s":"m","x":3.6,"y":1.51},{"s":"m","x":5.5,"y":1.7},{"s":"m","x":7.4,"y":1.79},{"s":"m","x":9.3,"y":1.81},{"s":"m","x":11.2,"y":1.7},{"s":"m","x":12.7,"y":1.67},{"s":"m","x":14,"y":1.76},{"s":"m","x":15.1,"y":1.95},{"s":"m","x":16.4,"y":1.91},{"s":"m","x":17.8,"y":1.7},{"s":"m","x":19.2,"y":1.41},{"s":"m","x":20.6,"y":1.36},{"s":"m","x":22,"y":1.41},{"s":"m","x":23.5,"y":1.57},{"s":"m","x":24.9,"y":1.76},{"s":"m","x":26.3,"y":1.95},{"s":"m","x":27.7,"y":2.11},{"s":"m","x":29.1,"y":2.11},{"s":"m","x":30.6,"y":2.08},{"s":"m","x":32,"y":1.89},{"s":"m","x":33.4,"y":1.76},{"s":"m","x":35,"y":1.61},
{"s":"g","x":0,"y":3.21},{"s":"g","x":1,"y":3.08},{"s":"g","x":2,"y":3.02},{"s":"g","x":3,"y":2.89},{"s":"g","x":4,"y":3.21},{"s":"g","x":5,"y":3.08},{"s":"g","x":6,"y":2.96},{"s":"g","x":7,"y":2.58},{"s":"g","x":8,"y":3.4},{"s":"g","x":9,"y":3.33},{"s":"g","x":10,"y":3.27},{"s":"g","x":11,"y":2.83},{"s":"g","x":12,"y":3.08},{"s":"g","x":13,"y":2.58},{"s":"g","x":14,"y":3.08},{"s":"g","x":15,"y":2.96},{"s":"g","x":16,"y":2.58},{"s":"g","x":17,"y":3.02},{"s":"g","x":18,"y":2.83},{"s":"g","x":19,"y":2.45},{"s":"g","x":20,"y":3.14},{"s":"g","x":21,"y":2.96},{"s":"g","x":22,"y":2.89},{"s":"g","x":23,"y":2.77},{"s":"g","x":24,"y":3.21},{"s":"g","x":25,"y":3.08},{"s":"g","x":26,"y":3.21},{"s":"g","x":27,"y":3.33},{"s":"g","x":28,"y":3.9},{"s":"g","x":29,"y":4.28},
{"s":"y","x":0,"y":1.86},{"s":"y","x":1.7,"y":1.95},{"s":"y","x":3.6,"y":2.2},{"s":"y","x":5.5,"y":2.29},{"s":"y","x":7.4,"y":2.33},{"s":"y","x":9.3,"y":2.26},{"s":"y","x":11.2,"y":2.2},{"s":"y","x":13.1,"y":2.14},{"s":"y","x":14.9,"y":2.2},{"s":"y","x":16.8,"y":2.33},{"s":"y","x":18.7,"y":2.29},{"s":"y","x":20.6,"y":2.39},{"s":"y","x":22.5,"y":2.64},{"s":"y","x":23.9,"y":3.02},{"s":"y","x":25.4,"y":3.4},{"s":"y","x":26.8,"y":3.9},{"s":"y","x":27.7,"y":4.15},{"s":"y","x":28.7,"y":4.28},
{"s":"r","x":0,"y":1.61},{"s":"r","x":1,"y":1.61},{"s":"r","x":2,"y":1.53},{"s":"r","x":3,"y":1.61},{"s":"r","x":4,"y":1.48},{"s":"r","x":5,"y":1.43},{"s":"r","x":6,"y":1.45},{"s":"r","x":7,"y":1.36},{"s":"r","x":8,"y":1.32},{"s":"r","x":9,"y":1.26},{"s":"r","x":10,"y":1.07},{"s":"r","x":11,"y":0.94},{"s":"r","x":12,"y":0.98},{"s":"r","x":13,"y":1.26},{"s":"r","x":14,"y":1.41},{"s":"r","x":15,"y":1.36},{"s":"r","x":16,"y":1.28},{"s":"r","x":17,"y":1.28},{"s":"r","x":18,"y":1.19},{"s":"r","x":19,"y":1.28},{"s":"r","x":20,"y":1.26},{"s":"r","x":21,"y":1.13},{"s":"r","x":22,"y":1.26},{"s":"r","x":23,"y":1.28},{"s":"r","x":24,"y":1.26},{"s":"r","x":25.5,"y":1.16},{"s":"r","x":27,"y":1.19},{"s":"r","x":28.5,"y":1.19},{"s":"r","x":30,"y":1.26},{"s":"r","x":31.5,"y":1.23},{"s":"r","x":33,"y":1.26},{"s":"r","x":34,"y":1.23},{"s":"r","x":35,"y":1.23}
],
"p6": [
{"s":"b","x":0,"y":1.38},{"s":"b","x":0.94,"y":1.53},{"s":"b","x":1.97,"y":1.71},{"s":"b","x":3.01,"y":1.8},{"s":"b","x":4.05,"y":1.86},{"s":"b","x":5.09,"y":1.86},{"s":"b","x":5.87,"y":1.84},{"s":"b","x":6.65,"y":1.71},{"s":"b","x":7.43,"y":1.65},{"s":"b","x":8.21,"y":1.65},{"s":"b","x":9.25,"y":1.71},{"s":"b","x":10.29,"y":1.63},{"s":"b","x":11.32,"y":1.61},{"s":"b","x":12.36,"y":1.65},{"s":"b","x":13.14,"y":1.65},{"s":"b","x":13.92,"y":1.55},{"s":"b","x":14.96,"y":1.43},{"s":"b","x":15.74,"y":1.55},{"s":"b","x":16.52,"y":1.69},{"s":"b","x":17.3,"y":1.63},{"s":"b","x":18.08,"y":1.5},{"s":"b","x":19.12,"y":1.4},{"s":"b","x":20,"y":1.36},
{"s":"m","x":0,"y":1.71},{"s":"m","x":1.19,"y":1.71},{"s":"m","x":2.23,"y":1.78},{"s":"m","x":3.27,"y":1.78},{"s":"m","x":4.31,"y":1.74},{"s":"m","x":5.35,"y":1.69},{"s":"m","x":6.39,"y":1.65},{"s":"m","x":7.43,"y":1.65},{"s":"m","x":8.47,"y":1.71},{"s":"m","x":9.51,"y":1.8},{"s":"m","x":10.55,"y":1.93},{"s":"m","x":11.58,"y":2.05},{"s":"m","x":12.62,"y":2.13},{"s":"m","x":13.66,"y":2.21},{"s":"m","x":14.7,"y":2.34},{"s":"m","x":15.48,"y":2.53},{"s":"m","x":16.26,"y":2.71},{"s":"m","x":17.04,"y":2.81},{"s":"m","x":17.82,"y":2.84},{"s":"m","x":18.6,"y":2.78},{"s":"m","x":19.38,"y":2.71},{"s":"m","x":20,"y":2.65},
{"s":"y","x":0,"y":2.93},{"s":"y","x":0.94,"y":2.96},{"s":"y","x":1.97,"y":3.06},{"s":"y","x":3.01,"y":3.21},{"s":"y","x":4.05,"y":3.38},{"s":"y","x":5.09,"y":3.43},{"s":"y","x":6.13,"y":3.43},{"s":"y","x":7.17,"y":3.38},{"s":"y","x":8.21,"y":3.31},{"s":"y","x":9.25,"y":3.25},{"s":"y","x":10.29,"y":3.28},{"s":"y","x":11.32,"y":3.34},{"s":"y","x":12.36,"y":3.43},{"s":"y","x":13.4,"y":3.5},{"s":"y","x":14.44,"y":3.59},{"s":"y","x":15.48,"y":3.75},{"s":"y","x":16.52,"y":3.9},{"s":"y","x":17.56,"y":3.93},{"s":"y","x":18.6,"y":3.9},{"s":"y","x":20,"y":3.84},
{"s":"r","x":0,"y":1.34},{"s":"r","x":0.68,"y":1.43},{"s":"r","x":1.45,"y":1.46},{"s":"r","x":2.23,"y":1.38},{"s":"r","x":3.01,"y":1.59},{"s":"r","x":4.05,"y":1.61},{"s":"r","x":5.09,"y":1.61},{"s":"r","x":6.13,"y":1.63},{"s":"r","x":7.17,"y":1.55},{"s":"r","x":8.21,"y":1.49},{"s":"r","x":8.99,"y":1.4},{"s":"r","x":10.03,"y":1.43},{"s":"r","x":11.06,"y":1.45},{"s":"r","x":12.1,"y":1.43},{"s":"r","x":13.14,"y":1.38},{"s":"r","x":14.18,"y":1.33},{"s":"r","x":15.22,"y":1.28},{"s":"r","x":16.26,"y":1.21},{"s":"r","x":17.04,"y":1.19},{"s":"r","x":17.82,"y":1.25},{"s":"r","x":18.6,"y":1.13},{"s":"r","x":19.38,"y":1.06},{"s":"r","x":20,"y":1.06}
],
"p7": [
{"s":"b","x":0,"y":1.49},{"s":"b","x":5.3,"y":1.61},{"s":"b","x":11.6,"y":1.42},{"s":"b","x":17.8,"y":1.55},{"s":"b","x":24.9,"y":1.24},{"s":"b","x":32.1,"y":1.18},{"s":"b","x":39.2,"y":1.05},{"s":"b","x":46.3,"y":1.24},{"s":"b","x":53.4,"y":1.18},{"s":"b","x":60.6,"y":1.49},{"s":"b","x":67.7,"y":1.3},{"s":"b","x":73.9,"y":1.67},{"s":"b","x":80.1,"y":1.36},{"s":"b","x":87.3,"y":1.24},{"s":"b","x":94.4,"y":1.49},{"s":"b","x":101.5,"y":1.36},{"s":"b","x":108.6,"y":1.42},{"s":"b","x":115.8,"y":1.24},{"s":"b","x":122.9,"y":1.36},{"s":"b","x":130,"y":1.55},{"s":"b","x":137.1,"y":1.36},{"s":"b","x":144.3,"y":1.61},{"s":"b","x":151.4,"y":1.3},{"s":"b","x":158.5,"y":1.18},{"s":"b","x":165.6,"y":1.36},{"s":"b","x":172.7,"y":1.24},{"s":"b","x":179.9,"y":1.42},{"s":"b","x":187,"y":1.24},{"s":"b","x":194.1,"y":1.49},{"s":"b","x":201.2,"y":1.61},{"s":"b","x":208.4,"y":1.42},{"s":"b","x":215.5,"y":1.24},{"s":"b","x":222.6,"y":1.49},{"s":"b","x":229.7,"y":1.3},{"s":"b","x":236.9,"y":1.42},{"s":"b","x":244,"y":1.61},{"s":"b","x":251.1,"y":1.42},{"s":"b","x":258.2,"y":1.61},{"s":"b","x":265.4,"y":1.42},{"s":"b","x":272.5,"y":1.55},{"s":"b","x":279.6,"y":1.24},{"s":"b","x":286.7,"y":1.36},{"s":"b","x":293.9,"y":1.24},{"s":"b","x":301,"y":1.3},{"s":"b","x":308.1,"y":1.18},{"s":"b","x":315.2,"y":1.3},{"s":"b","x":322.3,"y":1.18},{"s":"b","x":329.5,"y":1.36},{"s":"b","x":336.6,"y":1.3},{"s":"b","x":343.7,"y":1.18},{"s":"b","x":348,"y":1.18},
{"s":"m","x":0,"y":1.05},{"s":"m","x":8.9,"y":0.99},{"s":"m","x":17.8,"y":1.18},{"s":"m","x":26.7,"y":1.11},{"s":"m","x":35.6,"y":0.99},{"s":"m","x":44.5,"y":1.11},{"s":"m","x":53.4,"y":1.03},{"s":"m","x":62.3,"y":1.11},{"s":"m","x":71.2,"y":1.24},{"s":"m","x":80.1,"y":1.18},{"s":"m","x":89,"y":1.03},{"s":"m","x":98,"y":0.93},{"s":"m","x":106.9,"y":1.11},{"s":"m","x":115.8,"y":1.3},{"s":"m","x":122.9,"y":1.67},{"s":"m","x":128.2,"y":1.98},{"s":"m","x":133.6,"y":1.55},{"s":"m","x":140.7,"y":1.8},{"s":"m","x":147.8,"y":1.42},{"s":"m","x":154.9,"y":1.24},{"s":"m","x":163,"y":1.18},{"s":"m","x":171.9,"y":1.24},{"s":"m","x":180.8,"y":1.18},{"s":"m","x":189.7,"y":1.36},{"s":"m","x":198.6,"y":1.42},{"s":"m","x":207.5,"y":1.24},{"s":"m","x":216.4,"y":1.05},{"s":"m","x":225.3,"y":0.93},{"s":"m","x":234.2,"y":0.99},{"s":"m","x":243.1,"y":1.18},{"s":"m","x":252,"y":1.05},{"s":"m","x":260.9,"y":0.8},{"s":"m","x":269.8,"y":0.93},{"s":"m","x":278.7,"y":1.11},{"s":"m","x":287.6,"y":0.93},{"s":"m","x":296.5,"y":1.05},{"s":"m","x":305.4,"y":0.99},{"s":"m","x":314.3,"y":1.11},{"s":"m","x":323.2,"y":1.05},{"s":"m","x":332.1,"y":1.18},{"s":"m","x":341,"y":1.11},{"s":"m","x":348,"y":1.11},
{"s":"g","x":0,"y":1.49},{"s":"g","x":7.1,"y":1.3},{"s":"g","x":14.2,"y":1.42},{"s":"g","x":20.5,"y":1.24},{"s":"g","x":26.7,"y":1.49},{"s":"g","x":30,"y":1.4},{"s":"g","x":32.1,"y":1.61},{"s":"g","x":35,"y":1.5},{"s":"g","x":38.3,"y":1.86},{"s":"g","x":41,"y":1.7},{"s":"g","x":44.5,"y":1.98},{"s":"g","x":47,"y":1.85},{"s":"g","x":49.9,"y":2.17},{"s":"g","x":53,"y":2.0},{"s":"g","x":56.1,"y":2.41},{"s":"g","x":60.6,"y":3.03},{"s":"g","x":65,"y":4.02},{"s":"g","x":67.7,"y":4.3},{"s":"g","x":100,"y":5.5},{"s":"g","x":140,"y":4.6},{"s":"g","x":142.5,"y":4.3},{"s":"g","x":145,"y":3.7},{"s":"g","x":147.8,"y":4.1},{"s":"g","x":150,"y":3.4},{"s":"g","x":152,"y":3.9},{"s":"g","x":155,"y":3.2},{"s":"g","x":158,"y":3.6},{"s":"g","x":161,"y":3.0},{"s":"g","x":164,"y":3.4},{"s":"g","x":167,"y":2.7},{"s":"g","x":170,"y":3.1},{"s":"g","x":173,"y":2.55},{"s":"g","x":176,"y":3.5},{"s":"g","x":178.1,"y":4.1},{"s":"g","x":182,"y":4.5},{"s":"g","x":196,"y":4.5},{"s":"g","x":199,"y":4.1},{"s":"g","x":203,"y":3.5},{"s":"g","x":207,"y":3.0},{"s":"g","x":211.9,"y":2.5},{"s":"g","x":216,"y":2.2},{"s":"g","x":220.8,"y":1.8},{"s":"g","x":225.3,"y":1.67},{"s":"g","x":229.7,"y":2.29},{"s":"g","x":234.2,"y":3.28},{"s":"g","x":238.6,"y":4.02},{"s":"g","x":243.1,"y":3.53},{"s":"g","x":247.6,"y":2.91},{"s":"g","x":252,"y":2.41},{"s":"g","x":258.2,"y":2.17},{"s":"g","x":265.4,"y":2.11},{"s":"g","x":272.5,"y":1.92},{"s":"g","x":278.7,"y":1.73},{"s":"g","x":283,"y":1.65},{"s":"g","x":287.6,"y":1.67},{"s":"g","x":292,"y":1.95},{"s":"g","x":296.5,"y":1.73},{"s":"g","x":300,"y":2.0},{"s":"g","x":305.4,"y":1.8},{"s":"g","x":309,"y":2.1},{"s":"g","x":314.3,"y":1.86},{"s":"g","x":318,"y":2.2},{"s":"g","x":323.2,"y":1.92},{"s":"g","x":326,"y":2.3},{"s":"g","x":329.5,"y":2.29},{"s":"g","x":332,"y":1.75},{"s":"g","x":334.8,"y":1.8},{"s":"g","x":338,"y":2.4},{"s":"g","x":341,"y":2.23},{"s":"g","x":343,"y":1.6},{"s":"g","x":345.5,"y":1.49},{"s":"g","x":348,"y":2.17},
{"s":"y","x":0,"y":1.36},{"s":"y","x":8.9,"y":1.3},{"s":"y","x":17.8,"y":1.42},{"s":"y","x":26.7,"y":1.67},{"s":"y","x":35.6,"y":1.61},{"s":"y","x":44.5,"y":1.73},{"s":"y","x":53.4,"y":1.92},{"s":"y","x":60.6,"y":2.29},{"s":"y","x":69.5,"y":2.79},{"s":"y","x":78.4,"y":3.16},{"s":"y","x":87.3,"y":3.53},{"s":"y","x":96.2,"y":3.78},{"s":"y","x":105.1,"y":3.9},{"s":"y","x":114,"y":3.93},{"s":"y","x":122.9,"y":3.84},{"s":"y","x":131.8,"y":3.53},{"s":"y","x":136.2,"y":3.03},{"s":"y","x":138.9,"y":2.35},{"s":"y","x":145.1,"y":2.66},{"s":"y","x":151.4,"y":2.41},{"s":"y","x":158.5,"y":2.66},{"s":"y","x":165.6,"y":3.1},{"s":"y","x":171.9,"y":2.97},{"s":"y","x":178.1,"y":2.79},{"s":"y","x":185.2,"y":2.66},{"s":"y","x":192.3,"y":2.48},{"s":"y","x":199.5,"y":2.35},{"s":"y","x":204.8,"y":2.48},{"s":"y","x":210.2,"y":2.35},{"s":"y","x":216.4,"y":2.11},{"s":"y","x":222.6,"y":1.8},{"s":"y","x":229.7,"y":1.73},{"s":"y","x":238.6,"y":1.86},{"s":"y","x":247.6,"y":1.92},{"s":"y","x":256.5,"y":1.98},{"s":"y","x":265.4,"y":1.8},{"s":"y","x":274.3,"y":1.42},{"s":"y","x":283.2,"y":1.24},{"s":"y","x":292.1,"y":1.05},{"s":"y","x":301,"y":1.11},{"s":"y","x":309.9,"y":1.18},{"s":"y","x":318.8,"y":0.99},{"s":"y","x":327.7,"y":0.99},{"s":"y","x":336.6,"y":1.05},{"s":"y","x":343,"y":0.93},{"s":"y","x":348,"y":0.87},
{"s":"r","x":0,"y":0.74},{"s":"r","x":7.1,"y":0.8},{"s":"r","x":14.2,"y":0.87},{"s":"r","x":21.4,"y":0.8},{"s":"r","x":28.5,"y":0.9},{"s":"r","x":35.6,"y":0.83},{"s":"r","x":42.7,"y":0.93},{"s":"r","x":49.9,"y":0.8},{"s":"r","x":57,"y":0.93},{"s":"r","x":64.1,"y":1.18},{"s":"r","x":71.2,"y":1.05},{"s":"r","x":78.4,"y":1.24},{"s":"r","x":85.5,"y":1.36},{"s":"r","x":92.6,"y":1.18},{"s":"r","x":99.7,"y":1.49},{"s":"r","x":106.9,"y":1.55},{"s":"r","x":114,"y":1.3},{"s":"r","x":121.1,"y":1.49},{"s":"r","x":128.2,"y":1.18},{"s":"r","x":135.4,"y":1.3},{"s":"r","x":142.5,"y":1.05},{"s":"r","x":149.6,"y":0.93},{"s":"r","x":156.7,"y":1.05},{"s":"r","x":163.8,"y":1.18},{"s":"r","x":171,"y":0.99},{"s":"r","x":178.1,"y":1.11},{"s":"r","x":185.2,"y":0.93},{"s":"r","x":192.3,"y":1.24},{"s":"r","x":199.5,"y":1.67},{"s":"r","x":204.8,"y":1.42},{"s":"r","x":211.9,"y":1.11},{"s":"r","x":219.1,"y":1.24},{"s":"r","x":226.2,"y":1.05},{"s":"r","x":233.3,"y":0.93},{"s":"r","x":240.4,"y":1.11},{"s":"r","x":247.6,"y":0.99},{"s":"r","x":254.7,"y":1.18},{"s":"r","x":261.8,"y":0.87},{"s":"r","x":268.9,"y":0.93},{"s":"r","x":276,"y":0.8},{"s":"r","x":283.2,"y":1.05},{"s":"r","x":290.3,"y":0.87},{"s":"r","x":297.4,"y":0.99},{"s":"r","x":304.5,"y":0.74},{"s":"r","x":311.7,"y":0.87},{"s":"r","x":318.8,"y":0.93},{"s":"r","x":325.9,"y":0.8},{"s":"r","x":333,"y":0.93},{"s":"r","x":340.2,"y":0.8},{"s":"r","x":347.3,"y":0.87}
],
"p8": [
{"s":"b","x":0,"y":1.24},{"s":"b","x":11,"y":1.42},{"s":"b","x":22.1,"y":1.3},{"s":"b","x":33.1,"y":1.49},{"s":"b","x":44.2,"y":1.24},{"s":"b","x":55.2,"y":1.49},{"s":"b","x":66.3,"y":1.61},{"s":"b","x":77.3,"y":1.42},{"s":"b","x":88.4,"y":1.8},{"s":"b","x":99.4,"y":1.61},{"s":"b","x":110.5,"y":1.42},{"s":"b","x":121.5,"y":1.67},{"s":"b","x":132.6,"y":1.49},{"s":"b","x":143.6,"y":1.67},{"s":"b","x":154.7,"y":1.36},{"s":"b","x":165.7,"y":1.61},{"s":"b","x":176.8,"y":1.36},{"s":"b","x":187.8,"y":1.55},{"s":"b","x":198.9,"y":1.3},{"s":"b","x":209.9,"y":1.67},{"s":"b","x":221,"y":1.49},{"s":"b","x":232,"y":1.67},{"s":"b","x":243.1,"y":1.36},{"s":"b","x":251.4,"y":1.8},{"s":"b","x":256.9,"y":4.3},{"s":"b","x":262.4,"y":4.3},{"s":"b","x":268,"y":2.41},{"s":"b","x":276.2,"y":1.55},{"s":"b","x":287.3,"y":1.49},{"s":"b","x":298.3,"y":1.8},{"s":"b","x":309.4,"y":1.49},{"s":"b","x":320.4,"y":1.61},{"s":"b","x":331.5,"y":1.36},{"s":"b","x":342.5,"y":1.67},{"s":"b","x":350.8,"y":1.98},{"s":"b","x":361.9,"y":1.67},{"s":"b","x":372.9,"y":1.42},{"s":"b","x":384,"y":1.86},{"s":"b","x":395,"y":1.61},{"s":"b","x":406.1,"y":1.8},{"s":"b","x":417.1,"y":1.55},{"s":"b","x":428.2,"y":1.73},{"s":"b","x":439.2,"y":1.49},{"s":"b","x":450.3,"y":1.67},{"s":"b","x":461.3,"y":1.55},{"s":"b","x":472.4,"y":1.67},{"s":"b","x":483.4,"y":1.42},{"s":"b","x":494.5,"y":1.61},{"s":"b","x":508.3,"y":1.36},{"s":"b","x":520,"y":1.5},{"s":"b","x":532,"y":1.3},
{"s":"m","x":0,"y":0.99},{"s":"m","x":11,"y":1.11},{"s":"m","x":22.1,"y":1.05},{"s":"m","x":33.1,"y":0.93},{"s":"m","x":44.2,"y":0.87},{"s":"m","x":55.2,"y":0.8},{"s":"m","x":66.3,"y":0.87},{"s":"m","x":77.3,"y":0.93},{"s":"m","x":88.4,"y":0.99},{"s":"m","x":99.4,"y":1.05},{"s":"m","x":110.5,"y":0.99},{"s":"m","x":121.5,"y":1.11},{"s":"m","x":132.6,"y":0.99},{"s":"m","x":143.6,"y":1.11},{"s":"m","x":154.7,"y":1.05},{"s":"m","x":165.7,"y":1.11},{"s":"m","x":176.8,"y":0.99},{"s":"m","x":187.8,"y":1.11},{"s":"m","x":198.9,"y":1.05},{"s":"m","x":209.9,"y":1.18},{"s":"m","x":221,"y":1.11},{"s":"m","x":232,"y":1.05},{"s":"m","x":243.1,"y":1.18},{"s":"m","x":251.4,"y":1.42},{"s":"m","x":256.9,"y":4.3},{"s":"m","x":259.7,"y":3.03},{"s":"m","x":262.4,"y":4.3},{"s":"m","x":268,"y":2.41},{"s":"m","x":273.5,"y":1.92},{"s":"m","x":281.8,"y":2.17},{"s":"m","x":292.8,"y":2.41},{"s":"m","x":303.9,"y":3.03},{"s":"m","x":314.9,"y":3.53},{"s":"m","x":326,"y":2.79},{"s":"m","x":337,"y":2.29},{"s":"m","x":350.8,"y":2.66},{"s":"m","x":361.9,"y":1.92},{"s":"m","x":372.9,"y":1.55},{"s":"m","x":384,"y":1.42},{"s":"m","x":395,"y":1.18},{"s":"m","x":406.1,"y":1.3},{"s":"m","x":417.1,"y":1.11},{"s":"m","x":428.2,"y":1.18},{"s":"m","x":439.2,"y":0.99},{"s":"m","x":450.3,"y":1.11},{"s":"m","x":461.3,"y":1.24},{"s":"m","x":472.4,"y":1.18},{"s":"m","x":483.4,"y":1.3},{"s":"m","x":494.5,"y":1.24},{"s":"m","x":508.3,"y":1.18},{"s":"m","x":520,"y":1.0},{"s":"m","x":532,"y":1.18},
{"s":"g","x":0,"y":2.04},{"s":"g","x":5,"y":2.2},{"s":"g","x":9.7,"y":1.92},{"s":"g","x":14,"y":2.1},{"s":"g","x":19.3,"y":2.11},{"s":"g","x":25,"y":1.95},{"s":"g","x":30.4,"y":2.23},{"s":"g","x":36,"y":2.05},{"s":"g","x":41.4,"y":2.04},{"s":"g","x":46,"y":2.3},{"s":"g","x":51.1,"y":2.29},{"s":"g","x":56,"y":2.15},{"s":"g","x":60.8,"y":2.41},{"s":"g","x":66,"y":2.2},{"s":"g","x":71.8,"y":2.29},{"s":"g","x":78,"y":2.05},{"s":"g","x":85.6,"y":2.11},{"s":"g","x":92,"y":1.9},{"s":"g","x":99.4,"y":1.98},{"s":"g","x":106,"y":1.75},{"s":"g","x":113.3,"y":1.8},{"s":"g","x":120,"y":1.95},{"s":"g","x":127.1,"y":1.86},{"s":"g","x":134,"y":1.8},{"s":"g","x":140.9,"y":1.92},{"s":"g","x":148,"y":1.78},{"s":"g","x":154.7,"y":1.86},{"s":"g","x":161,"y":1.98},{"s":"g","x":168.5,"y":1.92},{"s":"g","x":175,"y":1.85},{"s":"g","x":182.3,"y":1.98},{"s":"g","x":189,"y":2.05},{"s":"g","x":196.1,"y":2.04},{"s":"g","x":203,"y":2.15},{"s":"g","x":209.9,"y":2.17},{"s":"g","x":216,"y":2.1},{"s":"g","x":223.8,"y":2.23},{"s":"g","x":230,"y":2.35},{"s":"g","x":237.6,"y":2.41},{"s":"g","x":243,"y":2.3},{"s":"g","x":248.6,"y":2.54},{"s":"g","x":254.1,"y":3.16},{"s":"g","x":257,"y":4.3},{"s":"g","x":262,"y":4.4},{"s":"g","x":266,"y":3.0},{"s":"g","x":270,"y":3.2},{"s":"g","x":274,"y":2.9},{"s":"g","x":278,"y":3.28},{"s":"g","x":282,"y":3.1},{"s":"g","x":285.9,"y":3.41},{"s":"g","x":290,"y":3.2},{"s":"g","x":295.6,"y":3.53},{"s":"g","x":300,"y":3.35},{"s":"g","x":306.6,"y":3.65},{"s":"g","x":310,"y":3.5},{"s":"g","x":314.9,"y":3.9},{"s":"g","x":320.4,"y":4.3},{"s":"g","x":325,"y":4.6},
{"s":"y","x":0,"y":1.36},{"s":"y","x":9.7,"y":1.24},{"s":"y","x":19.3,"y":1.18},{"s":"y","x":30.4,"y":1.42},{"s":"y","x":41.4,"y":1.55},{"s":"y","x":51.1,"y":1.3},{"s":"y","x":60.8,"y":1.61},{"s":"y","x":71.8,"y":1.73},{"s":"y","x":82.9,"y":1.61},{"s":"y","x":93.9,"y":1.92},{"s":"y","x":105,"y":1.61},{"s":"y","x":116,"y":1.67},{"s":"y","x":127.1,"y":1.8},{"s":"y","x":138.1,"y":1.73},{"s":"y","x":149.2,"y":1.67},{"s":"y","x":160.2,"y":1.86},{"s":"y","x":171.3,"y":1.73},{"s":"y","x":182.3,"y":1.8},{"s":"y","x":193.4,"y":1.92},{"s":"y","x":204.4,"y":1.73},{"s":"y","x":215.5,"y":1.86},{"s":"y","x":226.5,"y":1.92},{"s":"y","x":237.6,"y":2.04},{"s":"y","x":248.6,"y":2.17},{"s":"y","x":254,"y":4.3},{"s":"y","x":259.7,"y":2.11},{"s":"y","x":270.7,"y":2.29},{"s":"y","x":281.8,"y":2.41},{"s":"y","x":292.8,"y":2.91},{"s":"y","x":303.9,"y":3.41},{"s":"y","x":314.9,"y":3.78},{"s":"y","x":326,"y":3.53},{"s":"y","x":337,"y":3.9},{"s":"y","x":345.3,"y":4.3},{"s":"y","x":361.9,"y":4.02},{"s":"y","x":375.7,"y":4.3},{"s":"y","x":389.5,"y":3.78},{"s":"y","x":400.6,"y":3.53},{"s":"y","x":411.6,"y":3.9},{"s":"y","x":419.9,"y":4.3},{"s":"y","x":439.2,"y":4.2},{"s":"y","x":453,"y":4.3},{"s":"y","x":461.3,"y":3.28},{"s":"y","x":472.4,"y":3.47},{"s":"y","x":483.4,"y":3.65},{"s":"y","x":493.1,"y":3.72},{"s":"y","x":502.8,"y":3.53},{"s":"y","x":513.8,"y":3.72},{"s":"y","x":525,"y":3.55},{"s":"y","x":532,"y":3.7},
{"s":"r","x":0,"y":0.93},{"s":"r","x":11,"y":0.99},{"s":"r","x":22.1,"y":0.87},{"s":"r","x":33.1,"y":0.93},{"s":"r","x":44.2,"y":0.74},{"s":"r","x":55.2,"y":0.87},{"s":"r","x":66.3,"y":0.8},{"s":"r","x":77.3,"y":0.93},{"s":"r","x":88.4,"y":0.87},{"s":"r","x":99.4,"y":0.99},{"s":"r","x":110.5,"y":0.93},{"s":"r","x":121.5,"y":0.99},{"s":"r","x":132.6,"y":0.93},{"s":"r","x":143.6,"y":1.05},{"s":"r","x":154.7,"y":0.99},{"s":"r","x":165.7,"y":1.05},{"s":"r","x":176.8,"y":0.93},{"s":"r","x":187.8,"y":1.11},{"s":"r","x":198.9,"y":0.99},{"s":"r","x":209.9,"y":1.11},{"s":"r","x":221,"y":1.05},{"s":"r","x":232,"y":1.18},{"s":"r","x":243.1,"y":1.3},{"s":"r","x":251.4,"y":1.67},{"s":"r","x":254.1,"y":4.3},{"s":"r","x":259.7,"y":1.55},{"s":"r","x":268,"y":1.8},{"s":"r","x":276.2,"y":1.42},{"s":"r","x":287.3,"y":1.3},{"s":"r","x":298.3,"y":1.49},{"s":"r","x":309.4,"y":1.24},{"s":"r","x":320.4,"y":1.36},{"s":"r","x":331.5,"y":1.18},{"s":"r","x":342.5,"y":1.42},{"s":"r","x":353.6,"y":1.3},{"s":"r","x":364.6,"y":1.42},{"s":"r","x":375.7,"y":1.24},{"s":"r","x":386.7,"y":1.36},{"s":"r","x":397.8,"y":1.18},{"s":"r","x":408.8,"y":1.3},{"s":"r","x":419.9,"y":1.24},{"s":"r","x":430.9,"y":1.36},{"s":"r","x":442,"y":1.18},{"s":"r","x":453,"y":1.24},{"s":"r","x":464.1,"y":1.11},{"s":"r","x":475.1,"y":0.93},{"s":"r","x":486.2,"y":1.24},{"s":"r","x":497.2,"y":1.11},{"s":"r","x":508.3,"y":1.3},{"s":"r","x":520,"y":1.1},{"s":"r","x":532,"y":1.25}
]
},
"vconcat": [
{"hconcat": [
{"width": 138, "height": 102, "layer": [
{"data": {"name": "p1"}, "mark": {"type": "line", "strokeWidth": 1.1, "clip": true},
"encoding": {"x": {"field": "x", "type": "quantitative", "scale": {"domain": [-8, 167], "nice": false, "zero": false}, "axis": {"values": [0,20,40,60,80,100,120,140,160], "format": "d", "title": "Frames", "labelOverlap": false}},
"y": {"field": "y", "type": "quantitative", "scale": {"domain": [0, 4], "nice": false}, "axis": {"values": [0,0.5,1,1.5,2,2.5,3,3.5,4], "format": ".1f", "title": "RMS Error", "labelOverlap": false}},
"color": {"field": "s", "type": "nominal", "scale": {"domain": ["b","m","g","y","r"], "range": ["#2f2fff","#cc33cc","#1e8c1e","#c9c93a","#ff1e1e"]}, "legend": {"title": null, "orient": "none", "legendX": -13, "legendY": 244, "direction": "horizontal", "labelExpr": "datum.label=='b'?'Gaussian σ = 58ms':datum.label=='m'?'Gaussian σ = 125ms':datum.label=='g'?'EBD':datum.label=='y'?'Lou and Chai 2010':'EBF'"}}}},
{"data": {"values": [{"t": "Straight walk"}]}, "mark": {"type": "text", "fontSize": 7.5, "font": "DejaVu Sans", "color": "#222", "baseline": "middle"}, "encoding": {"x": {"datum": 77, "type": "quantitative", "axis": {"values": [0,20,40,60,80,100,120,140,160], "format": "d", "title": "Frames", "labelOverlap": false}}, "y": {"datum": 0.35, "type": "quantitative", "axis": {"values": [0,0.5,1,1.5,2,2.5,3,3.5,4], "format": ".1f", "title": "RMS Error", "labelOverlap": false}}, "text": {"field": "t"}}}
]},
{"width": 143, "height": 102, "layer": [
{"data": {"name": "p2"}, "mark": {"type": "line", "strokeWidth": 1.1, "clip": true},
"encoding": {"x": {"field": "x", "type": "quantitative", "scale": {"domain": [-8.5, 148], "nice": false, "zero": false}, "axis": {"values": [0,20,40,60,80,100,120,140], "format": "d", "title": "Frames", "labelOverlap": false}},
"y": {"field": "y", "type": "quantitative", "scale": {"domain": [0, 4], "nice": false}, "axis": {"values": [0,0.5,1,1.5,2,2.5,3,3.5,4], "format": ".1f", "title": "RMS Error", "labelOverlap": false}},
"color": {"field": "s", "type": "nominal", "scale": {"domain": ["b","m","g","y","r"], "range": ["#2f2fff","#cc33cc","#1e8c1e","#c9c93a","#ff1e1e"]}, "legend": {"title": null, "orient": "none", "legendX": -13, "legendY": 244, "direction": "horizontal", "labelExpr": "datum.label=='b'?'Gaussian σ = 58ms':datum.label=='m'?'Gaussian σ = 125ms':datum.label=='g'?'EBD':datum.label=='y'?'Lou and Chai 2010':'EBF'"}}}},
{"data": {"values": [{"t": "Straight walk"}]}, "mark": {"type": "text", "fontSize": 7.5, "font": "DejaVu Sans", "color": "#222", "baseline": "middle"}, "encoding": {"x": {"datum": 68, "type": "quantitative", "axis": {"values": [0,20,40,60,80,100,120,140], "format": "d", "title": "Frames", "labelOverlap": false}}, "y": {"datum": 0.34, "type": "quantitative", "axis": {"values": [0,0.5,1,1.5,2,2.5,3,3.5,4], "format": ".1f", "title": "RMS Error", "labelOverlap": false}}, "text": {"field": "t"}}}
]},
{"width": 142, "height": 102, "layer": [
{"data": {"name": "p3"}, "mark": {"type": "line", "strokeWidth": 1.1, "clip": true},
"encoding": {"x": {"field": "x", "type": "quantitative", "scale": {"domain": [-7.5, 145.5], "nice": false, "zero": false}, "axis": {"values": [0,20,40,60,80,100,120,140], "format": "d", "title": "Frames", "labelOverlap": false}},
"y": {"field": "y", "type": "quantitative", "scale": {"domain": [0, 4], "nice": false}, "axis": {"values": [0,0.5,1,1.5,2,2.5,3,3.5,4], "format": ".1f", "title": "RMS Error", "labelOverlap": false}},
"color": {"field": "s", "type": "nominal", "scale": {"domain": ["b","m","g","y","r"], "range": ["#2f2fff","#cc33cc","#1e8c1e","#c9c93a","#ff1e1e"]}, "legend": {"title": null, "orient": "none", "legendX": -13, "legendY": 244, "direction": "horizontal", "labelExpr": "datum.label=='b'?'Gaussian σ = 58ms':datum.label=='m'?'Gaussian σ = 125ms':datum.label=='g'?'EBD':datum.label=='y'?'Lou and Chai 2010':'EBF'"}}}},
{"data": {"values": [{"t": "Walk with left turn"}]}, "mark": {"type": "text", "fontSize": 7.5, "font": "DejaVu Sans", "color": "#222", "baseline": "middle"}, "encoding": {"x": {"datum": 65, "type": "quantitative", "axis": {"values": [0,20,40,60,80,100,120,140], "format": "d", "title": "Frames", "labelOverlap": false}}, "y": {"datum": 0.33, "type": "quantitative", "axis": {"values": [0,0.5,1,1.5,2,2.5,3,3.5,4], "format": ".1f", "title": "RMS Error", "labelOverlap": false}}, "text": {"field": "t"}}}
]},
{"width": 142, "height": 102, "layer": [
{"data": {"name": "p4"}, "mark": {"type": "line", "strokeWidth": 1.1, "clip": true},
"encoding": {"x": {"field": "x", "type": "quantitative", "scale": {"domain": [-13, 262], "nice": false, "zero": false}, "axis": {"values": [0,50,100,150,200,250], "format": "d", "title": "Frames", "labelOverlap": false}},
"y": {"field": "y", "type": "quantitative", "scale": {"domain": [0, 4], "nice": false}, "axis": {"values": [0,0.5,1,1.5,2,2.5,3,3.5,4], "format": ".1f", "title": "RMS Error", "labelOverlap": false}},
"color": {"field": "s", "type": "nominal", "scale": {"domain": ["b","m","g","y","r"], "range": ["#2f2fff","#cc33cc","#1e8c1e","#c9c93a","#ff1e1e"]}, "legend": {"title": null, "orient": "none", "legendX": -13, "legendY": 244, "direction": "horizontal", "labelExpr": "datum.label=='b'?'Gaussian σ = 58ms':datum.label=='m'?'Gaussian σ = 125ms':datum.label=='g'?'EBD':datum.label=='y'?'Lou and Chai 2010':'EBF'"}}}},
{"data": {"values": [{"t": "Walk with right turn"}]}, "mark": {"type": "text", "fontSize": 7.5, "font": "DejaVu Sans", "color": "#222", "baseline": "middle"}, "encoding": {"x": {"datum": 116, "type": "quantitative", "axis": {"values": [0,50,100,150,200,250], "format": "d", "title": "Frames", "labelOverlap": false}}, "y": {"datum": 0.35, "type": "quantitative", "axis": {"values": [0,0.5,1,1.5,2,2.5,3,3.5,4], "format": ".1f", "title": "RMS Error", "labelOverlap": false}}, "text": {"field": "t"}}}
]}
], "spacing": 2},
{"hconcat": [
{"width": 138, "height": 106, "layer": [
{"data": {"name": "p5"}, "mark": {"type": "line", "strokeWidth": 1.1, "clip": true},
"encoding": {"x": {"field": "x", "type": "quantitative", "scale": {"domain": [-1.7, 37.2], "nice": false, "zero": false}, "axis": {"values": [0,5,10,15,20,25,30,35], "format": "d", "title": "Frames", "labelOverlap": false}},
"y": {"field": "y", "type": "quantitative", "scale": {"domain": [0, 4], "nice": false}, "axis": {"values": [0,0.5,1,1.5,2,2.5,3,3.5,4], "format": ".1f", "title": "RMS Error", "labelOverlap": false}},
"color": {"field": "s", "type": "nominal", "scale": {"domain": ["b","m","g","y","r"], "range": ["#2f2fff","#cc33cc","#1e8c1e","#c9c93a","#ff1e1e"]}, "legend": {"title": null, "orient": "none", "legendX": -13, "legendY": 244, "direction": "horizontal", "labelExpr": "datum.label=='b'?'Gaussian σ = 58ms':datum.label=='m'?'Gaussian σ = 125ms':datum.label=='g'?'EBD':datum.label=='y'?'Lou and Chai 2010':'EBF'"}}}},
{"data": {"values": [{"t": "Jog with right turn"}]}, "mark": {"type": "text", "fontSize": 7.5, "font": "DejaVu Sans", "color": "#222", "baseline": "middle"}, "encoding": {"x": {"datum": 17, "type": "quantitative", "axis": {"values": [0,5,10,15,20,25,30,35], "format": "d", "title": "Frames", "labelOverlap": false}}, "y": {"datum": 0.35, "type": "quantitative", "axis": {"values": [0,0.5,1,1.5,2,2.5,3,3.5,4], "format": ".1f", "title": "RMS Error", "labelOverlap": false}}, "text": {"field": "t"}}}
]},
{"width": 141, "height": 106, "layer": [
{"data": {"name": "p6"}, "mark": {"type": "line", "strokeWidth": 1.1, "clip": true},
"encoding": {"x": {"field": "x", "type": "quantitative", "scale": {"domain": [-0.9, 21.1], "nice": false, "zero": false}, "axis": {"values": [0,2.5,5,7.5,10,12.5,15,17.5,20], "format": ".1f", "title": "Frames", "labelOverlap": false}},
"y": {"field": "y", "type": "quantitative", "scale": {"domain": [0, 4], "nice": false}, "axis": {"values": [0,0.5,1,1.5,2,2.5,3,3.5,4], "format": ".1f", "title": "RMS Error", "labelOverlap": false}},
"color": {"field": "s", "type": "nominal", "scale": {"domain": ["b","m","g","y","r"], "range": ["#2f2fff","#cc33cc","#1e8c1e","#c9c93a","#ff1e1e"]}, "legend": {"title": null, "orient": "none", "legendX": -13, "legendY": 244, "direction": "horizontal", "labelExpr": "datum.label=='b'?'Gaussian σ = 58ms':datum.label=='m'?'Gaussian σ = 125ms':datum.label=='g'?'EBD':datum.label=='y'?'Lou and Chai 2010':'EBF'"}}}},
{"data": {"values": [{"t": "Run with left turn"}]}, "mark": {"type": "text", "fontSize": 7.5, "font": "DejaVu Sans", "color": "#222", "baseline": "middle"}, "encoding": {"x": {"datum": 9.8, "type": "quantitative", "axis": {"values": [0,2.5,5,7.5,10,12.5,15,17.5,20], "format": ".1f", "title": "Frames", "labelOverlap": false}}, "y": {"datum": 0.3, "type": "quantitative", "axis": {"values": [0,0.5,1,1.5,2,2.5,3,3.5,4], "format": ".1f", "title": "RMS Error", "labelOverlap": false}}, "text": {"field": "t"}}}
]},
{"width": 142, "height": 106, "layer": [
{"data": {"name": "p7"}, "mark": {"type": "line", "strokeWidth": 1.1, "clip": true},
"encoding": {"x": {"field": "x", "type": "quantitative", "scale": {"domain": [-17.5, 365], "nice": false, "zero": false}, "axis": {"values": [0,50,100,150,200,250,300,350], "format": "d", "title": "Frames", "labelOverlap": false}},
"y": {"field": "y", "type": "quantitative", "scale": {"domain": [0, 4], "nice": false}, "axis": {"values": [0,0.5,1,1.5,2,2.5,3,3.5,4], "format": ".1f", "title": "RMS Error", "labelOverlap": false}},
"color": {"field": "s", "type": "nominal", "scale": {"domain": ["b","m","g","y","r"], "range": ["#2f2fff","#cc33cc","#1e8c1e","#c9c93a","#ff1e1e"]}, "legend": {"title": null, "orient": "none", "legendX": -13, "legendY": 244, "direction": "horizontal", "labelExpr": "datum.label=='b'?'Gaussian σ = 58ms':datum.label=='m'?'Gaussian σ = 125ms':datum.label=='g'?'EBD':datum.label=='y'?'Lou and Chai 2010':'EBF'"}}}},
{"data": {"values": [{"t": "Jump"}]}, "mark": {"type": "text", "fontSize": 7.5, "font": "DejaVu Sans", "color": "#222", "baseline": "middle"}, "encoding": {"x": {"datum": 176, "type": "quantitative", "axis": {"values": [0,50,100,150,200,250,300,350], "format": "d", "title": "Frames", "labelOverlap": false}}, "y": {"datum": 0.31, "type": "quantitative", "axis": {"values": [0,0.5,1,1.5,2,2.5,3,3.5,4], "format": ".1f", "title": "RMS Error", "labelOverlap": false}}, "text": {"field": "t"}}}
]},
{"width": 142, "height": 106, "layer": [
{"data": {"name": "p8"}, "mark": {"type": "line", "strokeWidth": 1.1, "clip": true},
"encoding": {"x": {"field": "x", "type": "quantitative", "scale": {"domain": [-30, 562], "nice": false, "zero": false}, "axis": {"values": [0,100,200,300,400,500], "format": "d", "title": "Frames", "labelOverlap": false}},
"y": {"field": "y", "type": "quantitative", "scale": {"domain": [0, 4], "nice": false}, "axis": {"values": [0,0.5,1,1.5,2,2.5,3,3.5,4], "format": ".1f", "title": "RMS Error", "labelOverlap": false}},
"color": {"field": "s", "type": "nominal", "scale": {"domain": ["b","m","g","y","r"], "range": ["#2f2fff","#cc33cc","#1e8c1e","#c9c93a","#ff1e1e"]}, "legend": {"title": null, "orient": "none", "legendX": -13, "legendY": 244, "direction": "horizontal", "labelExpr": "datum.label=='b'?'Gaussian σ = 58ms':datum.label=='m'?'Gaussian σ = 125ms':datum.label=='g'?'EBD':datum.label=='y'?'Lou and Chai 2010':'EBF'"}}}},
{"data": {"values": [{"t": "Soccer kick"}]}, "mark": {"type": "text", "fontSize": 7.5, "font": "DejaVu Sans", "color": "#222", "baseline": "middle"}, "encoding": {"x": {"datum": 245, "type": "quantitative", "axis": {"values": [0,100,200,300,400,500], "format": "d", "title": "Frames", "labelOverlap": false}}, "y": {"datum": 0.33, "type": "quantitative", "axis": {"values": [0,0.5,1,1.5,2,2.5,3,3.5,4], "format": ".1f", "title": "RMS Error", "labelOverlap": false}}, "text": {"field": "t"}}}
]}
], "spacing": 2}
],
"spacing": 4,
"config": {
"font": "DejaVu Sans",
"view": {"stroke": "#9a9a9a", "strokeWidth": 1},
"axis": {"labelFont": "DejaVu Sans", "labelFontSize": 4.5, "labelColor": "#555", "titleFont": "DejaVu Sans", "titleFontSize": 4.5, "titleColor": "#555", "titleFontWeight": "normal", "tickSize": 2, "tickColor": "#999", "domain": false, "grid": false, "labelPadding": 1, "titlePadding": 0.5, "labelFlush": false, "labelBound": false, "labelOverlap": false},
"legend": {"gridAlign": "none", "symbolType": "stroke", "symbolSize": 440, "symbolStrokeWidth": 3, "labelFont": "DejaVu Sans", "labelFontSize": 6, "labelColor": "#333", "columnPadding": 5, "labelOffset": 6, "padding": 0}
}
}
